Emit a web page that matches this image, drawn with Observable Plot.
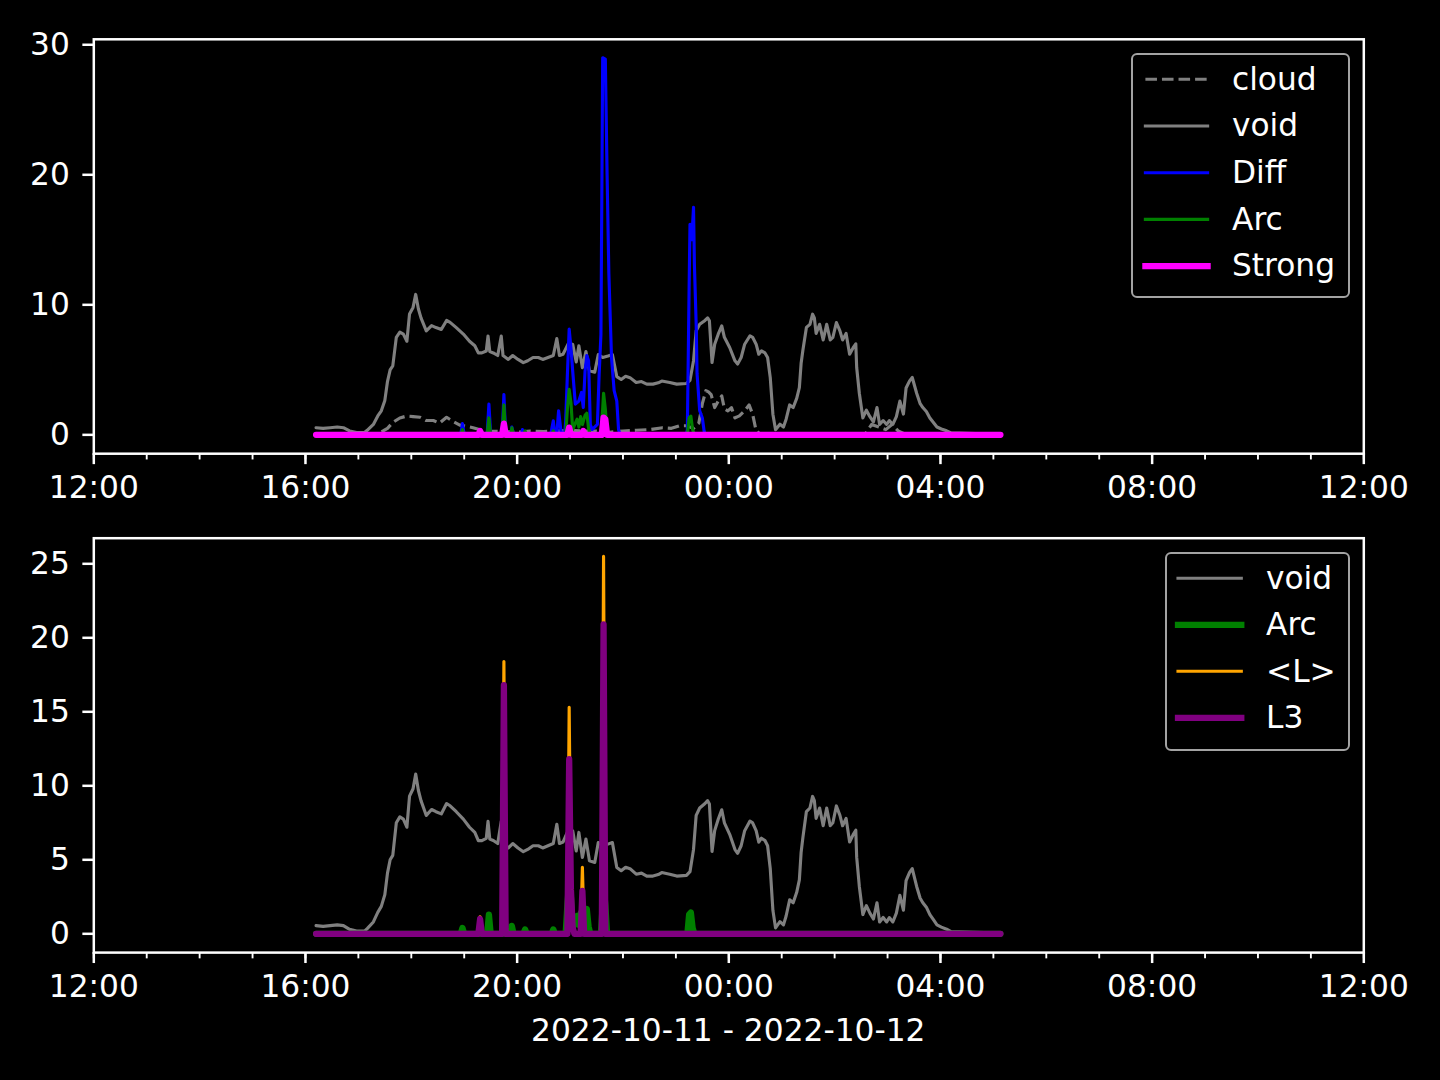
<!DOCTYPE html>
<html>
<head>
<meta charset="utf-8">
<script src="https://cdn.jsdelivr.net/npm/d3@7"></script>
<script src="https://cdn.jsdelivr.net/npm/@observablehq/plot@0.6"></script>
<style>
  html, body { margin: 0; padding: 0; background: #000; }
  #fig { position: relative; width: 1440px; height: 1080px; background: #000; overflow: hidden;
         font-family: "DejaVu Sans", sans-serif; color: #fff; }
  #fig .panel { position: absolute; left: 0; }
  .legend-box { position: absolute; box-sizing: border-box; border: 2.5px solid #a3a3a3; border-radius: 6px; background: #000; }
  .legend-text { position: absolute; font-size: 31.25px; line-height: 32px; white-space: nowrap; color: #fff; }
  .xlabel { position: absolute; left: 93.3px; width: 1270px; text-align: center; font-size: 31.25px; line-height: 32px; color: #fff; }
</style>
</head>
<body>
<div id="fig"></div>
<script>
// ---------------- data (time of day "HH:MM", value) ----------------
// times >= 12:00 belong to 2022-10-11, earlier times to 2022-10-12
const cloudSeries = [
  ["16:12",0],["17:20",0],["17:28",0.3],["17:33",0.5],["17:39",0.95],["17:47",1.3],["17:55",1.45],
  ["18:02",1.4],["18:10",1.35],["18:17",1.1],["18:25",1.1],["18:32",0.9],["18:40",1.35],["18:48",1.0],
  ["18:55",0.75],["19:03",0.65],["19:10",0.55],["19:18",0.4],["19:30",0.3],["19:45",0.25],["20:00",0.2],
  ["20:15",0.3],["20:30",0.25],["20:45",0.3],["21:00",0.35],["21:15",0.3],["21:30",0.3],["21:45",0.2],
  ["22:00",0.3],["22:15",0.35],["22:30",0.4],["22:45",0.55],["22:55",0.5],["23:04",0.7],["23:12",0.7],
  ["23:20",0.5],["23:26",0.9],["23:30",2.4],["23:34",3.4],["23:37",3.3],["23:40",3.1],["23:44",2.1],
  ["23:48",2.6],["23:52",3.0],["23:55",2.0],["23:59",1.85],["00:03",2.1],["00:07",1.3],["00:12",1.46],
  ["00:18",1.85],["00:23",2.3],["00:27",1.6],["00:31",0.3],["00:35",0.1],["02:35",0.1],["02:42",0.8],
  ["02:50",0.6],["02:58",0.4],["03:05",0.8],["03:12",0.3],["03:20",0.05],["05:08",0]
];
const voidSeries = [
  ["16:12",0.55],["16:20",0.5],["16:28",0.55],["16:36",0.6],["16:43",0.55],["16:50",0.3],["16:58",0.18],
  ["17:07",0.18],["17:10",0.35],["17:17",0.8],["17:22",1.45],["17:26",1.85],["17:30",2.65],["17:33",4.1],
  ["17:36",5.0],["17:39",5.3],["17:43",7.5],["17:47",7.9],["17:51",7.75],["17:55",7.2],["17:58",9.3],
  ["18:02",9.8],["18:05",10.8],["18:08",9.7],["18:11",9.0],["18:17",8.0],["18:23",8.4],["18:28",8.25],
  ["18:34",8.1],["18:40",8.8],["18:44",8.65],["18:51",8.25],["18:59",7.75],["19:06",7.2],["19:12",6.85],
  ["19:16",6.3],["19:20",6.3],["19:25",6.45],["19:27",7.6],["19:29",6.4],["19:33",6.3],["19:38",6.1],
  ["19:42",7.6],["19:44",6.1],["19:50",5.8],["19:55",6.1],["20:01",5.8],["20:07",5.55],["20:12",5.7],
  ["20:18",5.95],["20:24",5.95],["20:29",5.8],["20:35",5.95],["20:41",6.1],["20:45",7.4],["20:48",6.1],
  ["20:52",6.2],["20:58",7.0],["21:03",6.96],["21:07",5.6],["21:10",6.85],["21:14",5.16],["21:18",6.4],
  ["21:22",4.93],["21:28",4.82],["21:32",6.17],["21:37",5.95],["21:43",6.06],["21:48",6.17],["21:53",4.48],
  ["21:58",4.26],["22:03",4.5],["22:08",4.4],["22:15",4.03],["22:21",4.1],["22:27",3.9],["22:34",3.9],
  ["22:40",4.0],["22:44",4.14],["22:53",4.03],["23:01",3.9],["23:12",3.95],["23:16",4.2],["23:20",5.7],
  ["23:23",8.0],["23:27",8.5],["23:33",8.8],["23:36",9.0],["23:38",8.77],["23:41",5.56],["23:44",6.97],
  ["23:48",7.74],["23:52",8.38],["23:55",7.5],["00:01",6.72],["00:07",5.69],["00:10",5.44],["00:14",5.95],
  ["00:18",6.97],["00:24",7.62],["00:27",7.5],["00:31",6.97],["00:34",6.2],["00:37",6.46],["00:41",6.3],
  ["00:44",5.95],["00:47",4.4],["00:50",1.59],["00:53",0.4],["00:58",0.82],["01:02",0.6],["01:05",1.2],
  ["01:09",2.3],["01:13",2.1],["01:17",2.8],["01:20",3.64],["01:22",5.5],["01:24",6.5],["01:28",8.26],
  ["01:32",8.5],["01:35",9.28],["01:37",9.0],["01:39",7.8],["01:43",8.5],["01:47",7.3],["01:51",8.5],
  ["01:55",7.3],["01:58",7.5],["02:02",8.64],["02:06",8.0],["02:09",7.3],["02:13",7.8],["02:17",6.2],
  ["02:21",6.7],["02:24",7.0],["02:25",5.18],["02:28",3.2],["02:32",1.3],["02:36",1.9],["02:40",1.4],
  ["02:44",1.0],["02:48",2.1],["02:51",0.8],["02:55",1.1],["02:59",0.8],["03:02",1.1],["03:06",0.8],
  ["03:10",1.4],["03:14",2.6],["03:18",1.6],["03:21",3.6],["03:25",4.15],["03:28",4.41],["03:33",3.2],
  ["03:37",2.4],["03:40",2.1],["03:44",1.8],["03:48",1.3],["03:52",0.95],["03:56",0.6],["04:01",0.45],
  ["04:07",0.31],["04:12",0.15],["05:08",0.05]
];
const diffSeries = [
  ["16:12",0],["18:56",0],["18:58",0.87],["19:00",0],["19:26",0],["19:28",2.36],["19:30",0],["19:43",0],
  ["19:45",3.1],["19:47",0],["19:53",0],["19:54",0.6],["19:56",0],["20:05",0],["20:06",0.4],["20:08",0],
  ["20:38",0],["20:41",1.08],["20:43",0],["20:45",0],["20:47",1.85],["20:50",0.1],["20:54",0.2],
  ["20:55",1.0],["20:57",4.67],["20:59",8.13],["21:01",6.7],["21:03",4.9],["21:06",2.36],["21:10",2.6],
  ["21:13",3.26],["21:15",2.1],["21:17",4.9],["21:19",6.1],["21:21",5.7],["21:23",0.8],["21:25",0.4],
  ["21:31",0.8],["21:33",4.67],["21:35",7.7],["21:36",18],["21:37",29.0],["21:40",28.9],["21:42",20],
  ["21:44",12.4],["21:47",5.95],["21:50",3.4],["21:53",2.6],["21:55",0.4],["21:57",0],["23:12",0],
  ["23:13",0.4],["23:15",11.3],["23:16",16.2],["23:18",15.0],["23:20",17.5],["23:21",13.1],["23:23",8.5],
  ["23:24",4.7],["23:27",1.85],["23:30",1.3],["23:32",0.3],["23:33",0],["05:08",0]
];
const arcSeries = [
  ["16:12",0],["18:56",0],["18:58",0.4],["19:00",0],["19:26",0],["19:28",1.3],["19:30",0],["19:43",0],
  ["19:45",2.3],["19:47",0],["19:53",0],["19:54",0.54],["19:56",0],["20:07",0],["20:09",0.3],["20:11",0],
  ["20:39",0],["20:41",0.3],["20:43",0],["20:55",0],["20:57",2.0],["20:59",3.5],["21:01",2.5],["21:03",0.4],
  ["21:06",0.9],["21:08",1.2],["21:10",0.6],["21:12",1.4],["21:14",0.8],["21:17",1.5],["21:19",1.67],
  ["21:21",0.5],["21:23",0],["21:35",0],["21:37",2.0],["21:38",3.2],["21:40",2.0],["21:42",0],["23:13",0],
  ["23:15",1.3],["23:17",1.44],["23:19",0.4],["23:21",0],["05:08",0]
];
const strongSeries = [
  ["16:12",0],["19:16",0],["19:18",0.3],["19:20",0],["19:43",0],["19:45",0.87],["19:47",0],["20:57",0],
  ["20:59",0.56],["21:01",0],["21:13",0],["21:15",0.3],["21:17",0],["21:36",0],["21:38",1.33],["21:40",1.2],
  ["21:42",0],["05:08",0]
];
const lMeanSeries = [
  ["16:12",0],["19:16",0],["19:18",1.15],["19:20",0],["19:43",0],["19:45",18.4],["19:47",0],["20:57",0],
  ["20:59",15.3],["21:01",3.2],["21:03",0.5],["21:05",0],["21:12",0],["21:14",4.5],["21:16",0],["21:36",0],
  ["21:38",25.5],["21:40",0],["05:08",0]
];
const l3Series = [
  ["16:12",0],["19:16",0],["19:18",1.0],["19:20",0],["19:43",0],["19:45",16.8],["19:47",0],["20:57",0],
  ["20:59",11.8],["21:01",3.0],["21:03",0.4],["21:05",0],["21:12",0],["21:14",2.9],["21:16",0],["21:36",0],
  ["21:38",20.9],["21:40",0],["05:08",0]
];
const topYTicks = [0, 10, 20, 30];
const bottomYTicks = [0, 5, 10, 15, 20, 25];
const xStart = new Date(2022, 9, 11, 12, 0);
const xEnd = new Date(2022, 9, 12, 12, 0);
const xAxisTitle = "2022-10-11 - 2022-10-12";
const topLegendLabels = ["cloud", "void", "Diff", "Arc", "Strong"];
const bottomLegendLabels = ["void", "Arc", "<L>", "L3"];

// ---------------- helpers ----------------
function parseT(s) {
  const [h, m] = s.split(":").map(Number);
  return new Date(2022, 9, h >= 12 ? 11 : 12, h, m);
}
const rows = arr => arr.map(([t, v]) => ({t: parseT(t), v}));

const PT = 225 / 72;               // px per point
const THIN = 1 * PT, THICK = 2 * PT, FS = 10 * PT;
const styles = {
  cloud:  {stroke: "#808080", strokeWidth: THIN, strokeDasharray: `${3.7 * THIN} ${1.6 * THIN}`, strokeLinecap: "butt"},
  void:   {stroke: "#808080", strokeWidth: THIN},
  Diff:   {stroke: "#0000ff", strokeWidth: THIN},
  ArcTop: {stroke: "#008000", strokeWidth: THIN},
  Strong: {stroke: "#ff00ff", strokeWidth: THICK},
  ArcBot: {stroke: "#008000", strokeWidth: THICK},
  L:      {stroke: "#ffa500", strokeWidth: THIN},
  L3:     {stroke: "#800080", strokeWidth: THICK}
};

const majorTicks = d3.timeHours(xStart, new Date(+xEnd + 1), 4);
const minorTicks = d3.timeHours(xStart, new Date(+xEnd + 1), 1);

function panel({height, marginTop, marginBottom, yDomain, yTicks, lines}) {
  return Plot.plot({
    width: 1440, height,
    marginLeft: 93.3, marginRight: 76.7, marginTop, marginBottom,
    style: {background: "transparent", color: "white", fontFamily: '"DejaVu Sans", sans-serif', fontSize: FS + "px", overflow: "visible"},
    x: {type: "time", domain: [xStart, xEnd]},
    y: {domain: yDomain},
    marks: [
      ...lines.map(([data, st]) => Plot.line(rows(data), {x: "t", y: "v", ...st})),
      Plot.axisX({ticks: minorTicks, tickSize: 2 * PT, tickFormat: () => "", strokeWidth: 0.6 * PT, label: null}),
      Plot.axisX({ticks: majorTicks, tickSize: 3.5 * PT, tickPadding: 11.5, tickFormat: d3.timeFormat("%H:%M"), strokeWidth: 0.8 * PT, label: null}),
      Plot.axisY({ticks: yTicks, tickSize: 3.5 * PT, tickPadding: 13, strokeWidth: 0.8 * PT, label: null}),
      Plot.frame({stroke: "white", strokeWidth: 0.8 * PT})
    ]
  });
}

const fig = document.getElementById("fig");

const topPanel = panel({
  height: 510, marginTop: 38.8, marginBottom: 56.8,
  yDomain: [-1.45, 30.42], yTicks: topYTicks,
  lines: [[cloudSeries, styles.cloud], [voidSeries, styles.void], [diffSeries, styles.Diff],
          [arcSeries, styles.ArcTop], [strongSeries, styles.Strong]]
});
topPanel.classList.add("panel"); topPanel.style.top = "0px";
fig.appendChild(topPanel);

const bottomPanel = panel({
  height: 570, marginTop: 27.7, marginBottom: 127.9,
  yDomain: [-1.27, 26.73], yTicks: bottomYTicks,
  lines: [[voidSeries, styles.void], [arcSeries, styles.ArcBot], [lMeanSeries, styles.L], [l3Series, styles.L3]]
});
bottomPanel.classList.add("panel"); bottomPanel.style.top = "510px";
fig.appendChild(bottomPanel);

// x axis title
const xl = document.createElement("div");
xl.className = "xlabel";
xl.style.top = "1014px";
xl.textContent = xAxisTitle;
fig.appendChild(xl);

// legends
function legend({box, rowY0, rowStep, x1, x2, textX, labels, st}) {
  const b = document.createElement("div");
  b.className = "legend-box";
  Object.assign(b.style, {left: box[0] + "px", top: box[1] + "px", width: box[2] + "px", height: box[3] + "px"});
  fig.appendChild(b);
  const svgNS = "http://www.w3.org/2000/svg";
  const svg = document.createElementNS(svgNS, "svg");
  svg.setAttribute("width", 1440); svg.setAttribute("height", 1080);
  Object.assign(svg.style, {position: "absolute", left: "0px", top: "0px", pointerEvents: "none"});
  labels.forEach((lab, i) => {
    const y = rowY0 + i * rowStep;
    const s = st[i];
    const ln = document.createElementNS(svgNS, "line");
    ln.setAttribute("x1", x1); ln.setAttribute("x2", x2);
    ln.setAttribute("y1", y); ln.setAttribute("y2", y);
    ln.setAttribute("stroke", s.stroke);
    ln.setAttribute("stroke-width", s.strokeWidth);
    ln.setAttribute("stroke-linecap", s.strokeDasharray ? "butt" : "square");
    if (s.strokeDasharray) ln.setAttribute("stroke-dasharray", s.strokeDasharray);
    svg.appendChild(ln);
    const t = document.createElement("div");
    t.className = "legend-text";
    t.style.left = textX + "px";
    t.style.top = (y - 16.8) + "px";
    t.textContent = lab;
    fig.appendChild(t);
  });
  fig.appendChild(svg);
}

legend({box: [1130.5, 53, 219.5, 245], rowY0: 79.3, rowStep: 46.7, x1: 1145.4, x2: 1207.6, textX: 1232,
        labels: topLegendLabels, st: [styles.cloud, styles.void, styles.Diff, styles.ArcTop, styles.Strong]});
legend({box: [1164.8, 552, 185.5, 198.5], rowY0: 578.3, rowStep: 46.5, x1: 1178, x2: 1241.3, textX: 1266,
        labels: bottomLegendLabels, st: [styles.void, styles.ArcBot, styles.L, styles.L3]});
</script>
</body>
</html>
